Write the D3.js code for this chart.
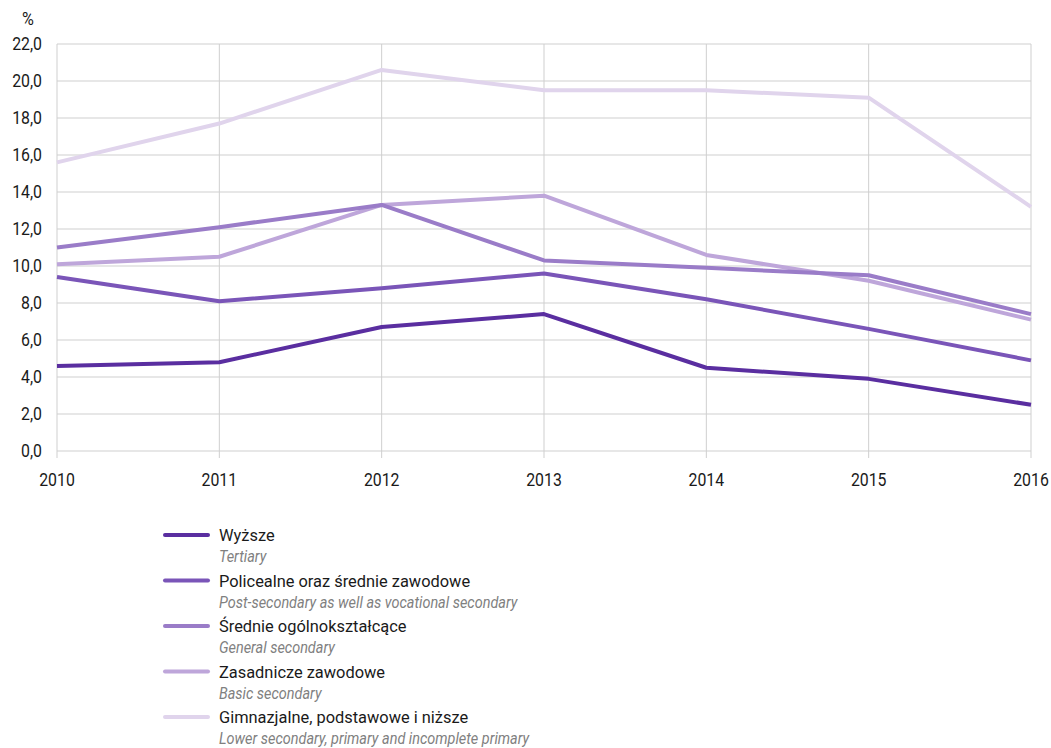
<!DOCTYPE html>
<html><head><meta charset="utf-8">
<script src="https://cdn.jsdelivr.net/npm/d3@7"></script>
<style>body{margin:0;background:#fff}svg{font-family:Roboto,"Liberation Sans",sans-serif}</style>
</head><body><svg id="c" width="1051" height="748"></svg>
<script>
const years = [2010, 2011, 2012, 2013, 2014, 2015, 2016];
const yTicks = [0, 2, 4, 6, 8, 10, 12, 14, 16, 18, 20, 22];
const seriesNamesPL = ["Wyższe", "Policealne oraz średnie zawodowe", "Średnie ogólnokształcące", "Zasadnicze zawodowe", "Gimnazjalne, podstawowe i niższe"];
const seriesNamesEN = ["Tertiary", "Post-secondary as well as vocational secondary", "General secondary", "Basic secondary", "Lower secondary, primary and incomplete primary"];
const tertiary = [4.6, 4.8, 6.7, 7.4, 4.5, 3.9, 2.5];
const postSecondary = [9.4, 8.1, 8.8, 9.6, 8.2, 6.6, 4.9];
const generalSecondary = [11.0, 12.1, 13.3, 10.3, 9.9, 9.5, 7.4];
const basicSecondary = [10.1, 10.5, 13.3, 13.8, 10.6, 9.2, 7.1];
const lowerSecondary = [15.6, 17.7, 20.6, 19.5, 19.5, 19.1, 13.2];
const colors = ["#5a2ea0", "#7a55b8", "#9a7cc8", "#bea6da", "#e0d4ec"];

const series = [tertiary, postSecondary, generalSecondary, basicSecondary, lowerSecondary];
const svg = d3.select("#c");
const x = d3.scaleLinear().domain([2010, 2016]).range([57, 1031]);
const y = d3.scaleLinear().domain([0, 22]).range([451, 44]);

const g = svg.append("g");
g.selectAll("line.h").data(yTicks).join("line")
  .attr("x1", 57).attr("x2", 1031)
  .attr("y1", d => y(d)).attr("y2", d => y(d))
  .attr("stroke", "#cfcfcf").attr("stroke-width", 1);
g.selectAll("line.v").data(years).join("line")
  .attr("x1", d => x(d)).attr("x2", d => x(d))
  .attr("y1", y(22)).attr("y2", y(0) + 7)
  .attr("stroke", "#cfcfcf").attr("stroke-width", 1);

const sx = 0.88;
g.selectAll("text.yl").data(yTicks).join("text")
  .attr("transform", d => `translate(42,${y(d)}) scale(${sx},1)`).attr("dy", "0.36em")
  .attr("text-anchor", "end").attr("font-size", 18).attr("fill", "#1a1a1a")
  .text(d => d3.format(".1f")(d).replace(".", ","));
svg.append("text").attr("transform", "translate(22,25) scale(0.9,1)").attr("font-size", 18).attr("fill", "#1a1a1a").text("%");
g.selectAll("text.xl").data(years).join("text")
  .attr("transform", d => `translate(${x(d)},486) scale(${sx},1)`)
  .attr("text-anchor", "middle").attr("font-size", 18).attr("fill", "#1a1a1a")
  .text(d => d);

const line = d3.line().x((d, i) => x(years[i])).y(d => y(d));
for (let k = series.length - 1; k >= 0; k--) {
  svg.append("path").datum(series[k]).attr("d", line)
    .attr("fill", "none").attr("stroke", colors[k]).attr("stroke-width", 4)
    .attr("stroke-linejoin", "round").attr("stroke-linecap", "butt");
}

const lg = svg.append("g");
seriesNamesPL.forEach((name, i) => {
  const yy = 535 + i * 45.5;
  lg.append("line").attr("x1", 165).attr("x2", 208).attr("y1", yy).attr("y2", yy)
    .attr("stroke", colors[i]).attr("stroke-width", 4).attr("stroke-linecap", "round");
  lg.append("text").attr("transform", `translate(219,${yy + 6}) scale(0.965,1)`).attr("font-size", 17).attr("fill", "#1a1a1a").text(name);
  lg.append("text").attr("transform", `translate(219,${yy + 27}) scale(0.85,1)`).attr("font-size", 17).attr("font-style", "italic").attr("fill", "#808080").text(seriesNamesEN[i]);
});
</script></body></html>
